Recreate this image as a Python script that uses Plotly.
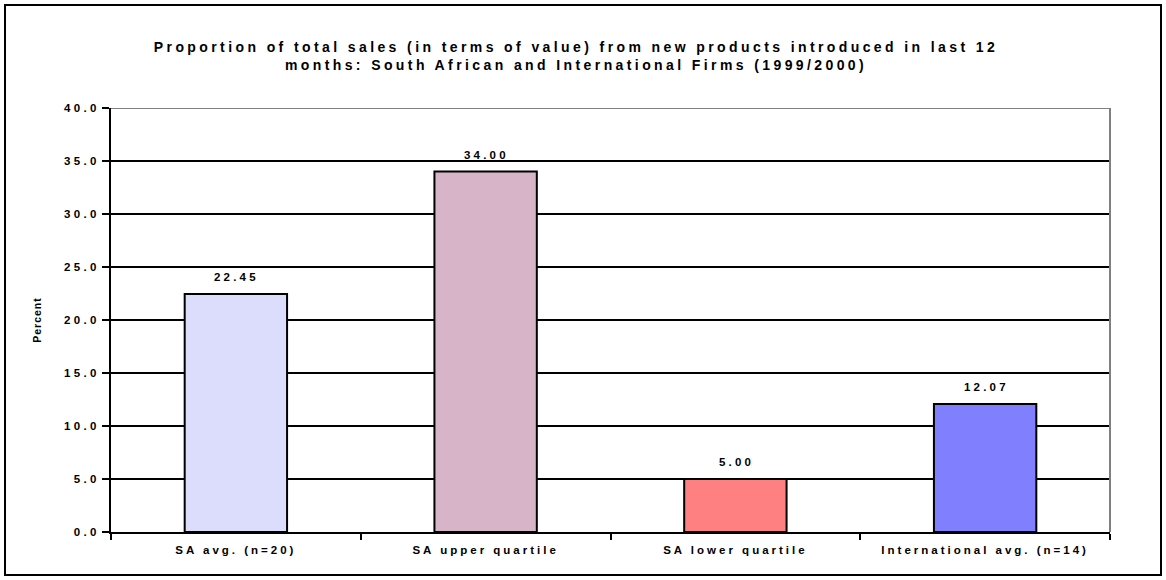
import plotly.graph_objects as go

categories = ["SA avg. (n=20)", "SA upper quartile", "SA lower quartile", "International avg. (n=14)"]
values = [22.45, 34.00, 5.00, 12.07]
labels = ["22.45", "34.00", "5.00", "12.07"]
colors = ["#DCDCFC", "#D8B4C8", "#FF8080", "#8080FF"]
yticks = [0, 5, 10, 15, 20, 25, 30, 35, 40]
yticklabels = ["0.0", "5.0", "10.0", "15.0", "20.0", "25.0", "30.0", "35.0", "40.0"]
title_lines = ["Proportion of total sales (in terms of value) from new products introduced in last 12",
               "months: South African and International Firms (1999/2000)"]
y_title = "Percent"

W, H = 1166, 580
L, R, T, B = 111, 56, 108, 48
pw, ph = W - L - R, H - T - B
FONT = "Liberation Sans, Arial, sans-serif"


def sp(s, px):
    return f'<span style="letter-spacing:{px}px">{s}</span>'


fig = go.Figure()
fig.add_trace(go.Bar(
    x=categories, y=values,
    marker=dict(color=colors, line=dict(color="black", width=2)),
    width=0.41, hoverinfo="x+y",
))

for c, v, t in zip(categories, values, labels):
    fig.add_annotation(x=c, y=v, text=sp(t, 3.2), showarrow=False,
                       xanchor="center", yanchor="bottom", yshift=9, xshift=1,
                       font=dict(family=FONT, size=11.5, color="black", weight="bold"))

fig.update_layout(
    width=W, height=H,
    margin=dict(l=L, r=R, t=T, b=B),
    paper_bgcolor="white", plot_bgcolor="white",
    showlegend=False,
    font=dict(family=FONT, color="black"),
    title=dict(text="<br>".join(sp(s, 3.4) for s in title_lines),
               x=(576 - L) / pw, xref="paper", xanchor="center",
               y=1 - 52 / H, yanchor="middle",
               font=dict(family=FONT, size=14, weight="bold", color="black")),
    xaxis=dict(showline=True, linecolor="black", linewidth=2,
               ticks="outside", ticklen=6, tickwidth=2, tickcolor="black",
               tickson="boundaries", showgrid=False, ticklabelstandoff=6,
               tickvals=categories, ticktext=[sp(c, 3) for c in categories],
               tickfont=dict(family=FONT, size=11.5, weight="bold", color="black")),
    yaxis=dict(range=[0, 40], tickvals=yticks, ticktext=[sp(t, 3.3) for t in yticklabels],
               showline=True, linecolor="black", linewidth=2,
               ticks="outside", ticklen=7, tickwidth=2, tickcolor="black",
               showgrid=True, gridcolor="black", gridwidth=2, zeroline=False,
               tickfont=dict(family=FONT, size=11.5, weight="bold", color="black"),
               title=dict(text=sp(y_title, 1), font=dict(family=FONT, size=10.5, weight="bold", color="black"),
                          standoff=20)),
)

# gray top and right plot border
fig.add_shape(type="line", xref="paper", yref="y", x0=0, x1=1, y0=40, y1=40,
              line=dict(color="#808080", width=2))
fig.add_shape(type="line", xref="paper", yref="paper", x0=1, x1=1, y0=0, y1=1,
              line=dict(color="#808080", width=2))
# outer chart border
fig.add_shape(type="rect", xref="paper", yref="paper",
              x0=(5 - L) / pw, x1=(1161 - L) / pw,
              y0=-(575 - (T + ph)) / ph, y1=1 + (T - 5) / ph,
              line=dict(color="black", width=2), fillcolor="rgba(0,0,0,0)")

fig.write_html("out.html")
